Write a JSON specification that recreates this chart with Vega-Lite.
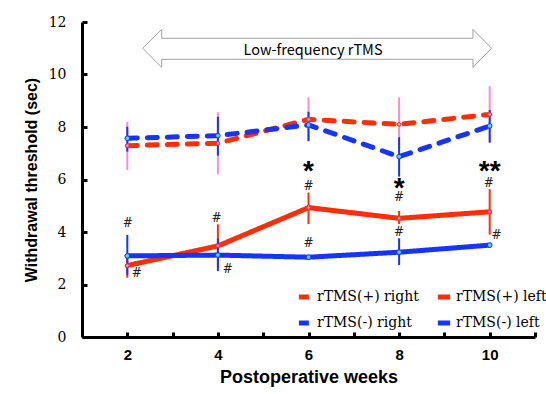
{
  "$schema": "https://vega.github.io/schema/vega-lite/v6.json",
  "width": 453,
  "height": 315,
  "autosize": {"type": "none"},
  "padding": {"left": 82, "top": 22, "right": 11, "bottom": 57},
  "background": "white",
  "config": {
    "view": {"stroke": null},
    "font": "Liberation Sans",
    "axis": {
      "domainColor": "black",
      "domainWidth": 3,
      "tickColor": "black",
      "tickWidth": 3,
      "grid": false,
      "labelColor": "black",
      "titleColor": "black"
    },
    "legend": {
      "orient": "none",
      "legendX": 214,
      "legendY": 266,
      "columns": 2,
      "columnPadding": 8,
      "rowPadding": 6,
      "padding": 0,
      "symbolType": "stroke",
      "symbolSize": 150,
      "symbolStrokeWidth": 5,
      "labelFont": "DejaVu Serif",
      "labelFontSize": 14,
      "labelColor": "black",
      "labelOffset": 3,
      "labelLimit": 200
    }
  },
  "datasets": {
    "means": [
      {"week": 2, "series": "rTMS(+) right", "mean": 7.29, "lo": 6.36, "hi": 8.2},
      {"week": 4, "series": "rTMS(+) right", "mean": 7.38, "lo": 6.2, "hi": 8.56},
      {"week": 6, "series": "rTMS(+) right", "mean": 8.29, "lo": 7.44, "hi": 9.13},
      {"week": 8, "series": "rTMS(+) right", "mean": 8.1, "lo": 7.1, "hi": 9.13},
      {"week": 10, "series": "rTMS(+) right", "mean": 8.48, "lo": 7.44, "hi": 9.56},
      {"week": 2, "series": "rTMS(+) left", "mean": 2.72, "lo": 2.26, "hi": 3.18},
      {"week": 4, "series": "rTMS(+) left", "mean": 3.47, "lo": 2.65, "hi": 4.29},
      {"week": 6, "series": "rTMS(+) left", "mean": 4.93, "lo": 4.3, "hi": 5.5},
      {"week": 8, "series": "rTMS(+) left", "mean": 4.52, "lo": 4.3, "hi": 4.8},
      {"week": 10, "series": "rTMS(+) left", "mean": 4.77, "lo": 3.9, "hi": 5.63},
      {"week": 2, "series": "rTMS(-) right", "mean": 7.57, "lo": 7.06, "hi": 8.01},
      {"week": 4, "series": "rTMS(-) right", "mean": 7.67, "lo": 6.91, "hi": 8.39},
      {"week": 6, "series": "rTMS(-) right", "mean": 8.08, "lo": 7.47, "hi": 8.58},
      {"week": 8, "series": "rTMS(-) right", "mean": 6.87, "lo": 6.11, "hi": 7.61},
      {"week": 10, "series": "rTMS(-) right", "mean": 8.04, "lo": 7.4, "hi": 8.65},
      {"week": 2, "series": "rTMS(-) left", "mean": 3.09, "lo": 2.36, "hi": 3.89},
      {"week": 4, "series": "rTMS(-) left", "mean": 3.12, "lo": 2.51, "hi": 3.76},
      {"week": 6, "series": "rTMS(-) left", "mean": 3.04, "lo": 2.96, "hi": 3.12},
      {"week": 8, "series": "rTMS(-) left", "mean": 3.23, "lo": 2.74, "hi": 3.76},
      {"week": 10, "series": "rTMS(-) left", "mean": 3.5, "lo": 3.42, "hi": 3.58}
    ],
    "hashes": [
      {"week": 2.01, "value": 4.33, "label": "#"},
      {"week": 2.21, "value": 2.43, "label": "#"},
      {"week": 3.97, "value": 4.54, "label": "#"},
      {"week": 4.22, "value": 2.59, "label": "#"},
      {"week": 6, "value": 5.75, "label": "#"},
      {"week": 6, "value": 3.57, "label": "#"},
      {"week": 8, "value": 5.32, "label": "#"},
      {"week": 8, "value": 4.01, "label": "#"},
      {"week": 9.98, "value": 5.88, "label": "#"},
      {"week": 10.15, "value": 3.89, "label": "#"}
    ],
    "stars": [
      {"week": 6, "value": 6.51, "label": "*"},
      {"week": 8, "value": 5.88, "label": "*"},
      {"week": 10, "value": 6.51, "label": "**"}
    ],
    "arrow": [
      {"i": 1, "week": 2.34, "value": 11.0},
      {"i": 2, "week": 2.76, "value": 11.72},
      {"i": 3, "week": 2.76, "value": 11.38},
      {"i": 4, "week": 9.63, "value": 11.38},
      {"i": 5, "week": 9.63, "value": 11.72},
      {"i": 6, "week": 10.04, "value": 11.0},
      {"i": 7, "week": 9.63, "value": 10.27},
      {"i": 8, "week": 9.63, "value": 10.58},
      {"i": 9, "week": 2.76, "value": 10.58},
      {"i": 10, "week": 2.76, "value": 10.27},
      {"i": 11, "week": 2.34, "value": 11.0}
    ],
    "arrowLabel": [
      {"week": 6.1, "value": 10.9, "label": "Low-frequency rTMS"}
    ]
  },
  "layer": [
    {
      "data": {"name": "arrow"},
      "mark": {"type": "line", "color": "#a0a0a0", "strokeWidth": 1},
      "encoding": {
        "x": {"field": "week", "type": "quantitative", "scale": {"domain": [1, 11], "nice": false, "zero": false},
          "axis": {"title": "Postoperative weeks", "values": [2, 3, 4, 5, 6, 7, 8, 9, 10, 11],
            "labelExpr": "datum.value % 2 == 0 && datum.value <= 10 ? datum.label : ''",
            "tickSize": -5, "labelPadding": 15, "labelFont": "Liberation Sans", "labelFontWeight": "bold", "labelFontSize": 15,
            "titleFont": "Liberation Sans", "titleFontWeight": "bold", "titleFontSize": 18, "titlePadding": 6}},
        "y": {"field": "value", "type": "quantitative", "scale": {"domain": [0, 12], "nice": false},
          "axis": {"title": "Withdrawal threshold (sec)", "values": [0, 2, 4, 6, 8, 10, 12],
            "tickSize": -5, "labelPadding": 21, "labelFont": "DejaVu Serif", "labelFontSize": 14,
            "titleFont": "Liberation Sans", "titleFontWeight": "bold", "titleFontSize": 16, "titlePadding": 9}},
        "order": {"field": "i", "type": "quantitative"}
      }
    },
    {
      "data": {"name": "means"},
      "mark": {"type": "line", "strokeWidth": 5, "strokeCap": "round"},
      "encoding": {
        "x": {"field": "week", "type": "quantitative"},
        "y": {"field": "mean", "type": "quantitative"},
        "color": {"field": "series", "type": "nominal", "title": null,
          "scale": {"domain": ["rTMS(+) right", "rTMS(-) right", "rTMS(+) left", "rTMS(-) left"],
            "range": ["#ff2d0a", "#1634ff", "#ff2d0a", "#1634ff"]}},
        "strokeDash": {"field": "series", "type": "nominal", "title": null,
          "scale": {"domain": ["rTMS(+) right", "rTMS(-) right", "rTMS(+) left", "rTMS(-) left"],
            "range": [[10, 10], [10, 10], [1, 0], [1, 0]]}}
      }
    },
    {
      "data": {"name": "means"},
      "transform": [{"filter": "datum.series === 'rTMS(+) right'"}],
      "mark": {"type": "rule", "color": "#ff8ccf", "strokeWidth": 2},
      "encoding": {
        "x": {"field": "week", "type": "quantitative"},
        "y": {"field": "lo", "type": "quantitative"},
        "y2": {"field": "hi"}
      }
    },
    {
      "data": {"name": "means"},
      "transform": [{"filter": "datum.series === 'rTMS(+) left'"}],
      "mark": {"type": "rule", "color": "#ff2d0a", "strokeWidth": 2},
      "encoding": {
        "x": {"field": "week", "type": "quantitative"},
        "y": {"field": "lo", "type": "quantitative"},
        "y2": {"field": "hi"}
      }
    },
    {
      "data": {"name": "means"},
      "transform": [{"filter": "datum.series === 'rTMS(-) right' || datum.series === 'rTMS(-) left'"}],
      "mark": {"type": "rule", "color": "#1634ff", "strokeWidth": 2},
      "encoding": {
        "x": {"field": "week", "type": "quantitative"},
        "y": {"field": "lo", "type": "quantitative"},
        "y2": {"field": "hi"}
      }
    },
    {
      "data": {"name": "means"},
      "transform": [{"filter": "datum.series === 'rTMS(-) right' || datum.series === 'rTMS(-) left'"}],
      "mark": {"type": "point", "shape": "circle", "filled": true, "fill": "#66ccff", "stroke": "#1634ff", "strokeWidth": 1, "size": 22, "opacity": 1},
      "encoding": {
        "x": {"field": "week", "type": "quantitative"},
        "y": {"field": "mean", "type": "quantitative"}
      }
    },
    {
      "data": {"name": "means"},
      "transform": [{"filter": "datum.series === 'rTMS(+) right' || datum.series === 'rTMS(+) left'"}],
      "mark": {"type": "point", "shape": "circle", "filled": true, "fill": "#ff8fa8", "stroke": "#e8305a", "strokeWidth": 1, "size": 14, "opacity": 1},
      "encoding": {
        "x": {"field": "week", "type": "quantitative"},
        "y": {"field": "mean", "type": "quantitative"}
      }
    },
    {
      "data": {"name": "hashes"},
      "mark": {"type": "text", "font": "DejaVu Serif", "fontSize": 12, "color": "#222", "baseline": "middle", "align": "center"},
      "encoding": {
        "x": {"field": "week", "type": "quantitative"},
        "y": {"field": "value", "type": "quantitative"},
        "text": {"field": "label"}
      }
    },
    {
      "data": {"name": "stars"},
      "mark": {"type": "text", "font": "Liberation Sans", "fontWeight": "bold", "fontSize": 28, "color": "black", "baseline": "alphabetic", "align": "center", "dy": 14},
      "encoding": {
        "x": {"field": "week", "type": "quantitative"},
        "y": {"field": "value", "type": "quantitative"},
        "text": {"field": "label"}
      }
    },
    {
      "data": {"name": "arrowLabel"},
      "mark": {"type": "text", "font": "Noto Sans CJK JP", "fontSize": 14.5, "color": "black", "baseline": "middle", "align": "center"},
      "encoding": {
        "x": {"field": "week", "type": "quantitative"},
        "y": {"field": "value", "type": "quantitative"},
        "text": {"field": "label"}
      }
    }
  ]
}
